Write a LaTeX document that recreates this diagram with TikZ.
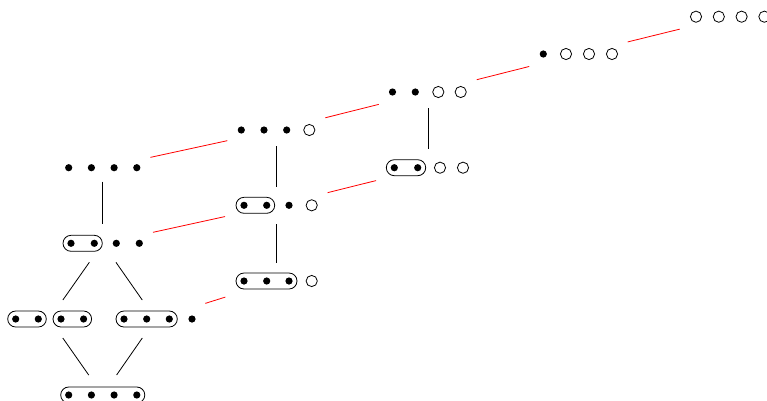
\documentclass[tikz,border=0pt]{standalone}
\newcommand\pdot[2]{\fill (#1,#2) circle[radius=3.6pt];}
\newcommand\pcirc[2]{\draw[line width=0.8pt] (#1,#2) circle[radius=5.6pt];}
\newcommand\povl[3]{\draw[line width=0.8pt, rounded corners=8pt] ({#1-8},{#3-8}) rectangle ({#2+8},{#3+8});}
\tikzset{
  box/.style={draw=none, inner sep=0pt, outer sep=0pt, minimum height=28pt},
  tie/.style n args={2}{draw=black, line width=0.8pt, shorten <=#1pt, shorten >=#2pt},
  link/.style={draw=red, line width=0.8pt, shorten <=10.3pt, shorten >=10.8pt}
}
\begin{document}
\begin{tikzpicture}[x=1pt,y=-1pt]
\useasboundingbox (0,0) rectangle (767,400);
% column 1
\pdot{68.7}{167.7}\pdot{91.4}{167.7}\pdot{114.1}{167.7}\pdot{136.8}{167.7}
\node[box, minimum width=75.3pt] (A1) at (102.7,167.7) {};
\povl{71}{94.3}{243.3}\pdot{71}{243.3}\pdot{94.3}{243.3}\pdot{116.3}{243.3}\pdot{139.3}{243.3}
\node[box, minimum width=80.4pt] (A2) at (102.7,243.3) {};
\povl{15.7}{38.3}{319}\pdot{15.7}{319}\pdot{38.3}{319}
\povl{61}{83.6}{319}\pdot{61}{319}\pdot{83.6}{319}
\node[box, minimum width=84.6pt] (A3L) at (49.5,319) {};
\povl{124}{169.3}{319}\pdot{124}{319}\pdot{146.7}{319}\pdot{169.3}{319}\pdot{192}{319}
\node[box, minimum width=80pt] (A3R) at (155.5,319) {};
\povl{68.7}{136.8}{395}\pdot{68.7}{395}\pdot{91.4}{395}\pdot{114.1}{395}\pdot{136.8}{395}
\node[box, minimum width=85pt] (A4) at (102.7,395) {};
% column 2
\pdot{241.3}{130}\pdot{264}{130}\pdot{286.7}{130}\pcirc{309.3}{130}
\node[box, minimum width=77.4pt] (B1) at (276.6,130) {};
\povl{244}{266.7}{205.3}\pdot{244}{205.3}\pdot{266.7}{205.3}\pdot{289}{205.3}\pcirc{311.7}{205.3}
\node[box, minimum width=82pt] (B2) at (276.6,205.3) {};
\povl{244}{289}{281}\pdot{244}{281}\pdot{266.7}{281}\pdot{289}{281}\pcirc{311.7}{281}
\node[box, minimum width=82pt] (B3) at (276.6,281) {};
% column 3
\pdot{392.5}{92}\pdot{415.3}{92}\pcirc{438.3}{92}\pcirc{460.7}{92}
\node[box, minimum width=77.6pt] (C1) at (428,92) {};
\povl{394.3}{417.7}{167.7}\pdot{394.3}{167.7}\pdot{417.7}{167.7}\pcirc{440}{167.7}\pcirc{463}{167.7}
\node[box, minimum width=83pt] (C2) at (428,167.7) {};
% column 4
\pdot{543.3}{54}\pcirc{566}{54}\pcirc{589}{54}\pcirc{612}{54}
\node[box, minimum width=78pt] (D1) at (578.7,54) {};
% column 5
\pcirc{696}{16.7}\pcirc{718.8}{16.7}\pcirc{741.6}{16.7}\pcirc{764.4}{16.7}
\node[box, minimum width=80pt] (E1) at (730.2,16.7) {};
% black connectors
\draw[tie={0}{5}] (A1) -- (A2);
\draw[tie={6.1}{6.1}] (A2) -- (A3L);
\draw[tie={6.1}{6.1}] (A2) -- (A3R);
\draw[tie={6.1}{7.3}] (A3L) -- (A4);
\draw[tie={6.1}{7.3}] (A3R) -- (A4);
\draw[tie={2}{4.6}] (B1) -- (B2);
\draw[tie={4.7}{4.3}] (B2) -- (B3);
\draw[tie={2.3}{4.7}] (C1) -- (C2);
% red connectors
\draw[link] (A1) -- (B1);
\draw[link] (B1) -- (C1);
\draw[link] (C1) -- (D1);
\draw[link] (D1) -- (E1);
\draw[link] (A2) -- (B2);
\draw[link] (B2) -- (C2);
\draw[link] (A3R) -- (B3);
\end{tikzpicture}
\end{document}
